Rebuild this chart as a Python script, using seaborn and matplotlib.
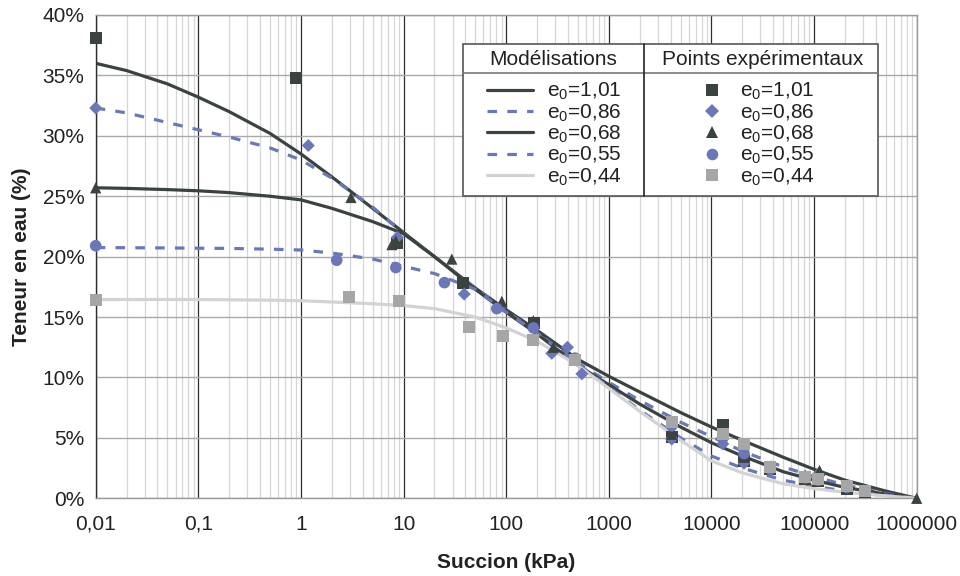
import matplotlib
matplotlib.use("Agg")
import matplotlib.pyplot as plt
import seaborn as sns
import numpy as np
from matplotlib.lines import Line2D
from matplotlib.patches import Rectangle
from matplotlib.ticker import FuncFormatter, LogLocator, NullFormatter

# ---- data --------------------------------------------------------------
labels = ["e$_0$=1,01", "e$_0$=0,86", "e$_0$=0,68", "e$_0$=0,55", "e$_0$=0,44"]

# model curves (suction in kPa, water content in %)
s_curve = [0.01, 0.02, 0.05, 0.1, 0.2, 0.5, 1, 2, 5, 10, 20, 50, 100, 200, 500,
           1000, 2000, 5000, 10000, 20000, 50000, 100000, 200000, 500000, 1000000]
w_model_101 = [36.0, 35.4, 34.3, 33.2, 32.0, 30.2, 28.5, 26.6, 24.0, 22.0, 20.0,
               17.4, 15.6, 13.9, 11.5, 10.1, 8.8, 7.1, 5.9, 4.8, 3.4, 2.4, 1.5,
               0.6, 0.0]
w_model_086 = [32.3, 31.9, 31.1, 30.5, 29.9, 29.0, 28.0, 26.5, 24.1, 21.9, 20.0,
               17.4, 15.5, 13.7, 11.2, 9.6, 8.1, 6.3, 5.1, 3.9, 2.6, 1.8, 1.1,
               0.4, 0.0]
w_model_068 = [25.7, 25.65, 25.55, 25.45, 25.3, 25.0, 24.7, 24.0, 22.9, 21.9, 20.0,
               17.3, 15.4, 13.6, 11.0, 9.4, 7.8, 5.9, 4.6, 3.5, 2.2, 1.5, 0.9,
               0.35, 0.0]
w_model_055 = [20.75, 20.74, 20.72, 20.7, 20.68, 20.62, 20.55, 20.3, 19.8, 19.2,
               18.6, 17.3, 15.4, 13.7, 11.1, 9.2, 7.3, 5.0, 3.5, 2.5, 1.5, 1.0,
               0.6, 0.25, 0.0]
w_model_044 = [16.45, 16.45, 16.45, 16.45, 16.43, 16.4, 16.35, 16.25, 16.1, 15.95,
               15.7, 15.0, 14.1, 13.0, 11.0, 9.1, 7.2, 4.8, 3.1, 2.1, 1.2, 0.8,
               0.5, 0.2, 0.0]

# experimental points
s_exp_101 = [0.01, 0.9, 8.6, 38, 188, 4100, 12900, 20800, 37300, 81900, 110000, 208000, 315000]
w_exp_101 = [38.1, 34.8, 21.1, 17.8, 14.5, 5.1, 6.1, 3.1, 2.4, 1.6, 1.4, 0.8, 0.5]
s_exp_086 = [0.01, 1.18, 8.7, 39, 278, 395, 546, 4100, 12900, 20800, 37300, 82000, 110000]
w_exp_086 = [32.3, 29.2, 21.6, 16.9, 12.0, 12.5, 10.3, 4.9, 4.5, 2.9, 2.3, 1.8, 2.0]
s_exp_068 = [0.01, 3.07, 7.7, 8.4, 29.5, 90.6, 184, 288, 4100, 12900, 20800,
             37300, 82000, 113000, 208000, 315000, 1000000]
w_exp_068 = [25.7, 24.9, 21.0, 21.3, 19.8, 16.3, 14.7, 12.5, 5.3, 5.5, 3.4,
             2.6, 1.9, 2.3, 1.0, 0.7, 0.0]
s_exp_055 = [0.01, 2.23, 8.4, 25, 81, 184, 468, 4100, 12900, 20800, 37300,
             82000, 110000, 208000, 315000]
w_exp_055 = [20.9, 19.7, 19.1, 17.85, 15.7, 14.1, 11.6, 6.0, 5.0, 3.7, 2.6,
             1.7, 1.5, 0.9, 0.6]
s_exp_044 = [0.01, 2.92, 8.97, 43.7, 94, 184, 468, 4100, 12900, 20800, 37300,
             81900, 110000, 208000, 315000]
w_exp_044 = [16.4, 16.7, 16.3, 14.2, 13.46, 13.1, 11.45, 6.3, 5.3, 4.5, 2.6,
             1.8, 1.6, 1.0, 0.6]

x_ticks = [0.01, 0.1, 1, 10, 100, 1000, 10000, 100000, 1000000]
x_ticklabels = ["0,01", "0,1", "1", "10", "100", "1000", "10000", "100000", "1000000"]
y_ticks = [0, 5, 10, 15, 20, 25, 30, 35, 40]

# ---- style ----------------------------------------------------------------
sns.set_style("white")
plt.rcParams["font.family"] = ["Liberation Sans", "DejaVu Sans"]
plt.rcParams["mathtext.fontset"] = "custom"
plt.rcParams["mathtext.rm"] = "Liberation Sans"
plt.rcParams["mathtext.it"] = "Liberation Sans:italic"
plt.rcParams["mathtext.bf"] = "Liberation Sans:bold"

DARK = "#3b4341"
BLUE = "#6b78b8"
LGRAY = "#d3d3d3"
MGRAY = "#a6a6a6"
TXT = "#222222"

fig, ax = plt.subplots(figsize=(9.6, 5.76), dpi=100)
fig.subplots_adjust(left=95.7 / 960, right=916.7 / 960,
                    top=1 - 15 / 576, bottom=1 - 498.3 / 576)

# model curves
curves = [(w_model_101, DARK, False), (w_model_086, BLUE, True),
          (w_model_068, DARK, False), (w_model_055, BLUE, True),
          (w_model_044, LGRAY, False)]
line_handles = []
for w, col, dashed in curves:
    sns.lineplot(x=s_curve, y=w, color=col, lw=2.3, ax=ax, zorder=2.5)
    ln = ax.lines[-1]
    ln.set_solid_capstyle("butt")
    if dashed:
        ln.set_dashes((3.0, 3.2))
    line_handles.append(Line2D([], [], color=col, lw=2.3,
                               dashes=(3.0, 3.2) if dashed else (None, None)))

# experimental points
points = [(s_exp_101, w_exp_101, "s", DARK, 72),
          (s_exp_086, w_exp_086, "D", BLUE, 44),
          (s_exp_068, w_exp_068, "^", DARK, 66),
          (s_exp_055, w_exp_055, "o", BLUE, 70),
          (s_exp_044, w_exp_044, "s", MGRAY, 75)]
pt_handles = []
for s, w, m, col, size in points:
    sns.scatterplot(x=s, y=w, marker=m, s=size, color=col, edgecolor="none",
                    ax=ax, zorder=3, clip_on=False)
    pt_handles.append(Line2D([], [], ls="none", marker=m, color=col,
                             markeredgewidth=0, markersize=np.sqrt(size)))

ax.set_xscale("log")
ax.set_xlim(0.01, 1000000)
ax.set_ylim(0, 40)
ax.set_xticks(x_ticks)
ax.set_xticklabels(x_ticklabels)
ax.xaxis.set_minor_locator(LogLocator(base=10, subs=np.arange(2, 10), numticks=20))
ax.xaxis.set_minor_formatter(NullFormatter())
ax.set_yticks(y_ticks)
ax.yaxis.set_major_formatter(FuncFormatter(lambda v, p: f"{v:.0f}%"))

ax.grid(True, which="minor", axis="x", color="#d6d6d6", lw=0.9, zorder=0)
ax.grid(True, which="major", axis="x", color="#2e2e2e", lw=0.9, zorder=0.5)
ax.grid(True, which="major", axis="y", color="#a9a9a9", lw=1.0, zorder=0.4)
ax.set_axisbelow(True)

for side in ["top", "right", "bottom"]:
    ax.spines[side].set_color("#9a9a9a")
    ax.spines[side].set_linewidth(1.0)
ax.spines["left"].set_color("#2e2e2e")
ax.spines["left"].set_linewidth(1.0)

ax.tick_params(axis="x", which="major", direction="out", length=6, width=1,
               color="#2e2e2e", labelsize=15, pad=6, labelcolor=TXT)
ax.tick_params(axis="x", which="minor", length=0)
ax.tick_params(axis="y", direction="out", length=5, width=1, color="#888888",
               labelsize=15, pad=3, labelcolor=TXT)

ax.set_xlabel("Succion (kPa)", fontsize=15, fontweight="bold", labelpad=14, color=TXT)
ax.set_ylabel("Teneur en eau (%)", fontsize=15, fontweight="bold", labelpad=8, color=TXT)

# ---- legend table -------------------------------------------------------
def fx(px):
    return px / 960


def fy(py):
    return 1 - py / 576


ft = fig.transFigure
ax.add_patch(Rectangle((fx(462.7), fy(196)), fx(878.3) - fx(462.7), fy(44) - fy(196),
                       transform=ft, facecolor="white", edgecolor="#555555",
                       lw=1.2, zorder=5, clip_on=False))
ax.add_line(Line2D([fx(462.7), fx(878.3)], [fy(72.7), fy(72.7)], transform=ft,
                   color="#777777", lw=1.2, zorder=6, clip_on=False))
ax.add_line(Line2D([fx(644.3), fx(644.3)], [fy(44), fy(196)], transform=ft,
                   color=TXT, lw=1.2, zorder=6, clip_on=False))
ax.text(fx(553), fy(59.5), "Modélisations", transform=ft, ha="center", va="center",
        fontsize=15, color=TXT, zorder=7)
ax.text(fx(763), fy(59.5), "Points expérimentaux", transform=ft, ha="center",
        va="center", fontsize=15, color=TXT, zorder=7)

leg1 = ax.legend(line_handles, labels, loc="upper left",
                 bbox_to_anchor=(fx(486.7), fy(81)), bbox_transform=ft,
                 frameon=False, fontsize=15, handlelength=2.2, handletextpad=0.7,
                 labelspacing=0.0, borderpad=0, borderaxespad=0)
leg1.set_zorder(8)
for t in leg1.get_texts():
    t.set_color(TXT)
ax.add_artist(leg1)

leg2 = ax.legend(pt_handles, labels, loc="upper left",
                 bbox_to_anchor=(fx(701.3), fy(81)), bbox_transform=ft,
                 frameon=False, fontsize=15, handlelength=1.0, handletextpad=0.85,
                 labelspacing=0.0, borderpad=0, borderaxespad=0)
leg2.set_zorder(8)
for t in leg2.get_texts():
    t.set_color(TXT)

fig.savefig("out.png", dpi=100)
